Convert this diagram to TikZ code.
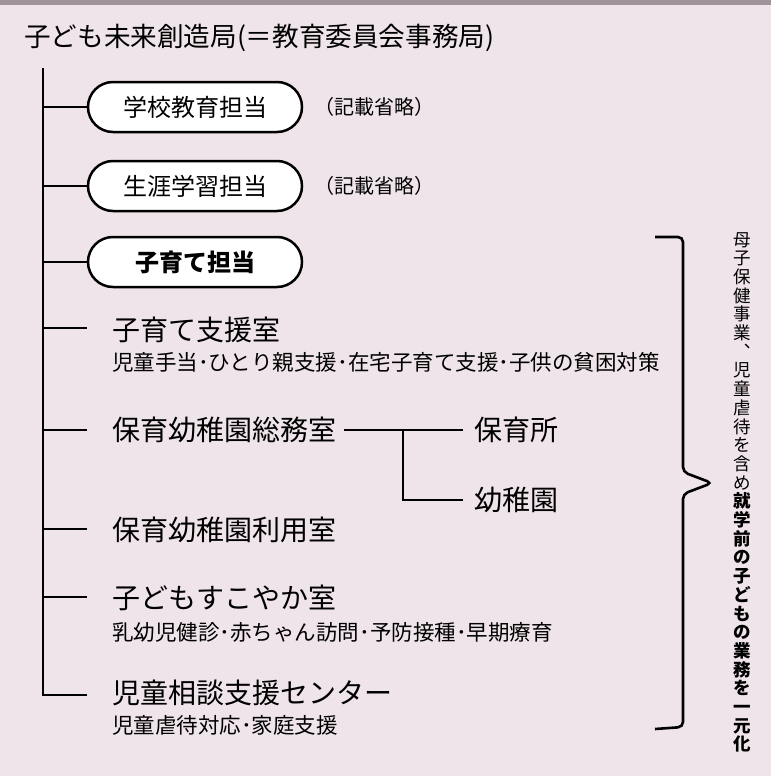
\documentclass[tikz,border=0pt]{standalone}
\usepackage{fontspec}
\setmainfont{Noto Sans CJK JP}
\usetikzlibrary{shapes.misc}
\definecolor{bg}{HTML}{EFE4EA}
\definecolor{band}{HTML}{A0939A}
\begin{document}
\begin{tikzpicture}[x=1pt,y=-1pt,
 pill/.style={rounded rectangle, draw, line width=2.5pt, fill=white, minimum width=214pt, minimum height=50pt, inner sep=0pt, font=\fontsize{24}{28}\selectfont},
 ln/.style={line width=2.6pt},
 item/.style={anchor=west, font=\fontsize{28}{32}\selectfont, inner sep=0pt},
 subtxt/.style={anchor=west, font=\fontsize{21.5}{24}\selectfont, inner sep=0pt},
 note/.style={anchor=west, font=\fontsize{20}{24}\selectfont, inner sep=0pt}]
\fill[bg] (0,0) rectangle (771,776);
\fill[band] (0,0) rectangle (771,5);
\useasboundingbox (0,0) rectangle (771,776);

\node[anchor=west, inner sep=0pt, font=\fontsize{26.6}{30}\selectfont] (title) at (24,38) {子ども未来創造局(＝教育委員会事務局)};

\node[pill] (p1) at (195,107) {学校教育担当};
\node[pill] (p2) at (195,186) {生涯学習担当};
\node[pill, font=\fontsize{24}{28}\selectfont\bfseries] (p3) at (195,262) {子育て担当};
\node[note] (n1) at (314,107) {（記載省略）};
\node[note] (n2) at (314,186) {（記載省略）};

\node[item] (i1) at (112,330) {子育て支援室};
\node[subtxt] (s1) at (112,362) {児童手当･ひとり親支援･在宅子育て支援･子供の貧困対策};
\node[item] (i2) at (112,430) {保育幼稚園総務室};
\node[item] (hoiku) at (474,430) {保育所};
\node[item] (youchi) at (474,500) {幼稚園};
\node[item] (i3) at (112,530) {保育幼稚園利用室};
\node[item] (i4) at (112,598) {子どもすこやか室};
\node[subtxt] (s4) at (112,632) {乳幼児健診･赤ちゃん訪問･予防接種･早期療育};
\node[item] (i5) at (112,693) {児童相談支援センター};
\node[subtxt] (s5) at (112,725) {児童虐待対応･家庭支援};

\coordinate (top) at (43,68);
\coordinate (bot) at (43,695);
\coordinate (d1) at (87,328);
\coordinate (d2) at (87,430);
\coordinate (d3) at (87,529);
\coordinate (d4) at (87,597);
\coordinate (d5) at (87,695);
\draw[ln] (top) -- (bot) -- (d5);
\draw[ln] (p1.west -| top) -- (p1.west);
\draw[ln] (p2.west -| top) -- (p2.west);
\draw[ln] (p3.west -| top) -- (p3.west);
\draw[ln] (d1 -| top) -- (d1);
\draw[ln] (d2 -| top) -- (d2);
\draw[ln] (d3 -| top) -- (d3);
\draw[ln] (d4 -| top) -- (d4);

\coordinate (br) at (403,430);
\draw[ln] ([xshift=8pt]i2.east) -- ([xshift=-11pt]hoiku.west);
\draw[ln] (br) |- ([xshift=-11pt]youchi.west);

\coordinate (bt) at (655,237);
\coordinate (bb) at (655,729);
\coordinate (tip) at (712,483);
\draw[ln, rounded corners=5pt] (bt) -- (683,237) -- (683,472) -- (tip) -- (683,494) -- (683,727) -- (bb);

\node[anchor=north, align=center, inner sep=0pt, font=\fontsize{17.5}{18.7}\selectfont] (vt) at (742,232)
{母\\子\\保\\健\\事\\業\\︑\\児\\童\\虐\\待\\を\\含\\め\\\textbf{就}\\\textbf{学}\\\textbf{前}\\\textbf{の}\\\textbf{子}\\\textbf{ど}\\\textbf{も}\\\textbf{の}\\\textbf{業}\\\textbf{務}\\\textbf{を}\\\textbf{一}\\\textbf{元}\\\textbf{化}};
\end{tikzpicture}
\end{document}
